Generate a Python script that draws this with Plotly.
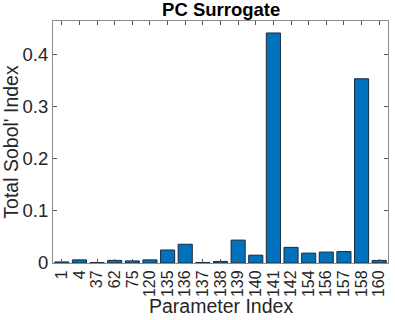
import plotly.graph_objects as go

params = ["1", "4", "37", "62", "75", "120", "135", "136", "137", "138",
          "139", "140", "141", "142", "154", "156", "157", "158", "160"]
sobol_total = [0.002, 0.006, 0.001, 0.005, 0.004, 0.006, 0.025, 0.036, 0.001, 0.003,
               0.044, 0.015, 0.442, 0.030, 0.019, 0.021, 0.022, 0.354, 0.005]
y_ticks = [0, 0.1, 0.2, 0.3, 0.4]
y_tick_text = ["0", "0.1", "0.2", "0.3", "0.4"]

font = "Liberation Sans, Arial, sans-serif"

fig = go.Figure(
    go.Bar(
        x=params,
        y=sobol_total,
        width=0.8,
        marker=dict(color="#0072BD", line=dict(color="#1a2a3a", width=1)),
    )
)

axis_style = dict(
    showline=True,
    linecolor="#8c8c8c",
    linewidth=1,
    mirror="allticks",
    ticks="inside",
    ticklen=4,
    tickcolor="#555555",
    showgrid=False,
    zeroline=False,
    automargin=False,
)

fig.update_layout(
    width=395,
    height=320,
    margin=dict(l=53, r=7, t=21, b=57),
    paper_bgcolor="white",
    plot_bgcolor="white",
    showlegend=False,
    bargap=0.2,
    title=dict(
        text="<b>PC Surrogate</b>",
        x=0.56,
        xanchor="center",
        y=0.97,
        yanchor="middle",
        font=dict(family=font, size=18.5, color="black"),
    ),
    xaxis=dict(
        **axis_style,
        type="category",
        tickmode="array",
        tickvals=params,
        ticktext=params,
        tickangle=-90,
        tickfont=dict(family=font, size=16, color="#262626"),
    ),
    yaxis=dict(
        **axis_style,
        range=[0, 0.465],
        tickvals=y_ticks,
        ticktext=y_tick_text,
        tickfont=dict(family=font, size=18.5, color="#262626"),
        title=dict(text="Total Sobol' Index", font=dict(family=font, size=19.5, color="#262626"), standoff=4),
    ),
    # x title as annotation so it can sit closer to the rotated tick labels
    annotations=[
        dict(
            text="Parameter Index",
            xref="paper", yref="paper",
            x=0.5, y=-0.178,
            xanchor="center", yanchor="middle",
            showarrow=False,
            font=dict(family=font, size=19.5, color="#262626"),
        )
    ],
)

# browser default body margin would shift the figure by 8px
fig.write_html(
    "out.html",
    config={"displayModeBar": False},
    post_script="document.body.style.margin='0';",
)
